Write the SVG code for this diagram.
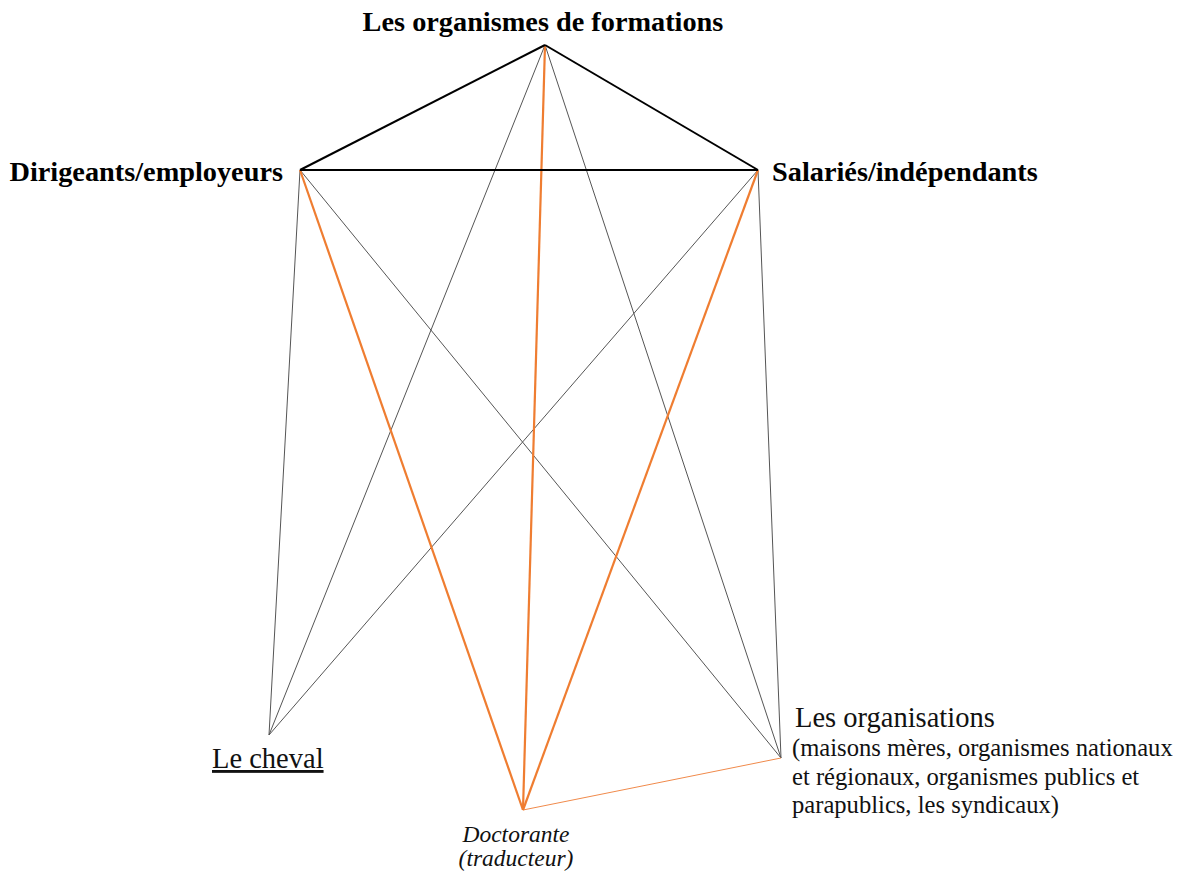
<svg xmlns="http://www.w3.org/2000/svg" width="1188" height="872" viewBox="0 0 1188 872">
<style>
.b{font-family:"Liberation Serif",serif;font-weight:bold;font-size:28.3px;fill:#000}
.r{font-family:"Liberation Serif",serif;font-size:28.5px;fill:#111}
.s{font-family:"Liberation Serif",serif;font-size:24.6px;fill:#111}
.i{font-family:"Liberation Serif",serif;font-style:italic;font-size:23.5px;fill:#111}
.k{stroke:#000;stroke-width:2;fill:none}
.o{stroke:#ef7d31;stroke-width:2.2;fill:none}
.ot{stroke:#f08a4b;stroke-width:1;fill:none}
.g{stroke:#555;stroke-width:1;fill:none}
</style>
<rect width="1188" height="872" fill="#fff"/>
<g id="connectors">
<line class="g" x1="300" y1="170" x2="269" y2="735"/>
<line class="g" x1="300" y1="170" x2="781" y2="758"/>
<line class="g" x1="545" y1="45" x2="269" y2="735"/>
<line class="g" x1="545" y1="45" x2="781" y2="758"/>
<line class="g" x1="758" y1="170" x2="269" y2="735"/>
<line class="g" x1="758" y1="170" x2="781" y2="758"/>
<line class="ot" x1="523" y1="810" x2="781" y2="758"/>
<line class="o" x1="545" y1="45" x2="523" y2="810"/>
<line class="o" x1="300" y1="170" x2="523" y2="810"/>
<line class="o" x1="758" y1="170" x2="523" y2="810"/>
<line class="k" x1="545" y1="45" x2="300" y2="170"/>
<line class="k" x1="545" y1="45" x2="758" y2="170"/>
<line class="k" x1="300" y1="170" x2="758" y2="170"/>
</g>
<g id="formations"><text class="b" x="543" y="31" text-anchor="middle">Les organismes de formations</text></g>
<g id="dirigeants"><text class="b" x="283" y="181" text-anchor="end">Dirigeants/employeurs</text></g>
<g id="salaries"><text class="b" x="772" y="181">Salariés/indépendants</text></g>
<g id="cheval"><text class="r" x="212" y="768" text-decoration="underline">Le cheval</text></g>
<g id="doctorante">
<text class="i" x="516" y="842" text-anchor="middle">Doctorante</text>
<text class="i" x="516" y="866" text-anchor="middle">(traducteur)</text>
</g>
<g id="organisations">
<text class="r" x="795" y="727">Les organisations</text>
<text class="s" x="792" y="756">(maisons mères, organismes nationaux</text>
<text class="s" x="792" y="785">et régionaux, organismes publics et</text>
<text class="s" x="792" y="813">parapublics, les syndicaux)</text>
</g>
</svg>
